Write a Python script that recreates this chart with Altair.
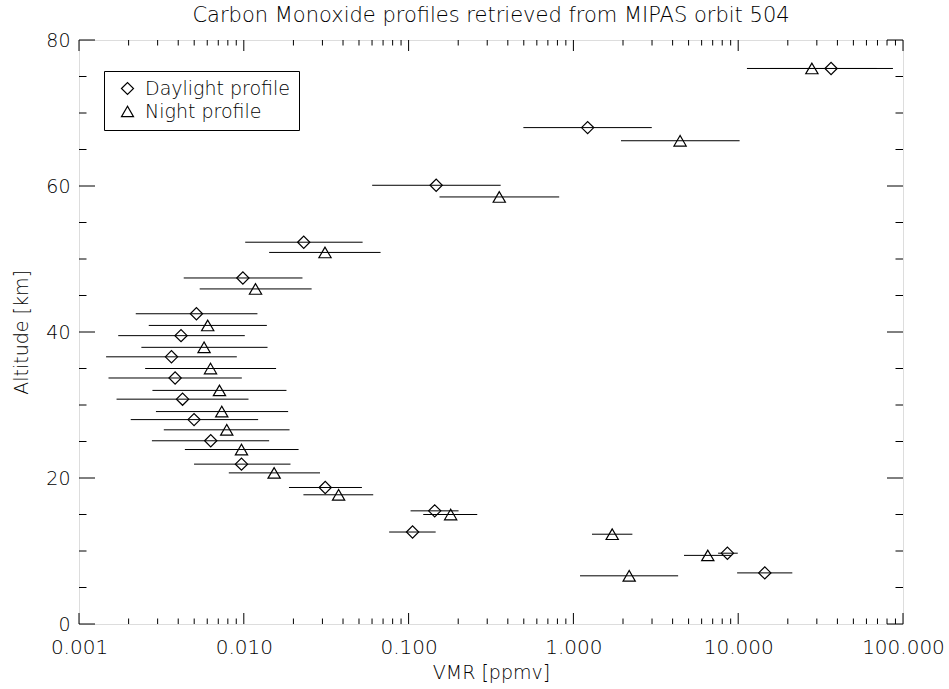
import altair as alt
import pandas as pd

# ---------------- data ----------------
series_names = ["Daylight profile", "Night profile"]

day_alt = [76.1, 68.0, 60.1, 52.3, 47.4, 42.5, 39.5, 36.6, 33.7, 30.8, 28.0, 25.1, 21.9, 18.7, 15.5, 12.6, 9.7, 7.0]
day_vmr = [36.6, 1.22, 0.147, 0.0231, 0.00987, 0.00516, 0.00416, 0.00364, 0.00383, 0.00425, 0.00499, 0.00630, 0.00968, 0.0312, 0.144, 0.1057, 8.60, 14.5]
day_lo = [15.6, 0.497, 0.0601, 0.0102, 0.00432, 0.00221, 0.00173, 0.00146, 0.00151, 0.00169, 0.00206, 0.00277, 0.00499, 0.0188, 0.1028, 0.0762, 7.55, 9.85]
day_hi = [86.9, 2.99, 0.362, 0.0526, 0.0227, 0.0121, 0.01014, 0.00907, 0.00973, 0.01068, 0.01222, 0.01425, 0.0192, 0.0521, 0.201, 0.146, 9.94, 21.3]

night_alt = [76.1, 66.2, 58.5, 50.9, 45.9, 40.9, 37.9, 35.0, 32.0, 29.1, 26.6, 23.9, 20.7, 17.7, 15.0, 12.3, 9.4, 6.6]
night_vmr = [28.0, 4.44, 0.355, 0.0311, 0.01178, 0.00604, 0.00574, 0.00628, 0.00712, 0.00735, 0.00788, 0.00968, 0.01528, 0.0376, 0.180, 1.72, 6.54, 2.18]
night_lo = [11.3, 1.945, 0.154, 0.01425, 0.0054, 0.00265, 0.00239, 0.00252, 0.00279, 0.00293, 0.00327, 0.00439, 0.00811, 0.0230, 0.1227, 1.297, 4.69, 1.097]
night_hi = [69.4, 10.2, 0.820, 0.0676, 0.0258, 0.0138, 0.01393, 0.0157, 0.01815, 0.01858, 0.01895, 0.0215, 0.0290, 0.0610, 0.261, 2.28, 9.06, 4.32]

x_label_values = [0.001, 0.01, 0.1, 1, 10, 100]
x_decades = [0.001, 0.01, 0.1, 1, 10]
x_minor_mult = [2, 3, 4, 5, 6, 7, 8, 9]
y_label_values = [0, 20, 40, 60, 80]
y_minor_values = [5, 10, 15, 25, 30, 35, 45, 50, 55, 65, 70, 75]

title_text = "Carbon Monoxide profiles retrieved from MIPAS orbit 504"
x_title = "VMR [ppmv]"
y_title = "Altitude [km]"

# ---------------- tables ----------------
df = pd.DataFrame({
    "series": [series_names[0]] * len(day_alt) + [series_names[1]] * len(night_alt),
    "alt": day_alt + night_alt,
    "vmr": day_vmr + night_vmr,
    "lo": day_lo + night_lo,
    "hi": day_hi + night_hi,
})
x_minor = [d * m for d in x_decades for m in x_minor_mult]

W, H = 824, 584
FONT = "DejaVu Sans"
FW = 200

xscale = alt.Scale(type="log", domain=[0.001, 100], nice=False)
yscale = alt.Scale(domain=[0, 80], nice=False, zero=False)

xaxis = alt.Axis(values=x_label_values, format=".3f", grid=False, ticks=False, tickSize=0,
                 domain=False, labelFontSize=20, labelPadding=13, titleFontSize=19,
                 titlePadding=6, labelFont=FONT, titleFont=FONT, labelColor="black",
                 titleColor="black", labelFontWeight=FW, titleFontWeight=FW,
                 labelFlush=False, labelOverlap=False)
yaxis = alt.Axis(values=y_label_values, grid=False, ticks=False, tickSize=0, domain=False,
                 labelFontSize=19, labelPadding=9, titleFontSize=19, titlePadding=14,
                 labelFont=FONT, titleFont=FONT, labelColor="black", titleColor="black",
                 labelFontWeight=FW, titleFontWeight=FW, labelOverlap=False)


def X(field):
    return alt.X(field, type="quantitative", scale=xscale, axis=xaxis, title=x_title)


def Y(field):
    return alt.Y(field, type="quantitative", scale=yscale, axis=yaxis, title=y_title)


bars = alt.Chart(df).mark_rule(color="black", strokeWidth=1).encode(
    x=X("lo"), x2="hi", y=Y("alt"))

points = alt.Chart(df).mark_point(filled=False, size=150, strokeWidth=1.2, color="black",
                                  opacity=1).encode(
    x=X("vmr"), y=Y("alt"),
    shape=alt.Shape("series:N",
                    scale=alt.Scale(domain=series_names, range=["diamond", "triangle-up"]),
                    legend=alt.Legend(title=None, orient="none", legendX=25, legendY=31,
                                      strokeColor="black", fillColor="white", padding=8,
                                      rowPadding=3, labelFontSize=19, labelFont=FONT,
                                      labelFontWeight=FW, labelColor="black", symbolSize=144,
                                      symbolStrokeWidth=1.2, symbolStrokeColor="black",
                                      symbolFillColor="transparent", labelOffset=8,
                                      symbolOffset=6, cornerRadius=0)),
)


def xticks(vals, y1, y2):
    return alt.Chart(pd.DataFrame({"v": vals})).mark_rule(color="black", strokeWidth=1).encode(
        x=X("v"), y=alt.value(y1), y2=alt.value(y2))


def yticks(vals, x1, x2):
    return alt.Chart(pd.DataFrame({"a": vals})).mark_rule(color="black", strokeWidth=1).encode(
        y=Y("a"), x=alt.value(x1), x2=alt.value(x2))


ticks = [
    xticks(x_label_values, H, H - 11), xticks(x_minor, H, H - 5.5),
    xticks(x_label_values, 0, 11), xticks(x_minor, 0, 5.5),
    yticks(y_label_values, 0, 16), yticks(y_minor_values, 0, 7.5),
    yticks(y_label_values, W, W - 16), yticks(y_minor_values, W, W - 7.5),
]

chart = alt.layer(bars, points, *ticks).properties(
    width=W, height=H,
    title=alt.TitleParams(title_text, fontSize=21, font=FONT, fontWeight=FW, anchor="middle",
                          color="black", offset=5),
    autosize=alt.AutoSizeParams(type="none"),
    padding={"left": 79, "top": 40, "right": 46, "bottom": 65},
).configure_view(stroke="black", strokeWidth=1.3).configure(background="white")

chart.save("out.html", embed_options={"renderer": "svg", "actions": False})
